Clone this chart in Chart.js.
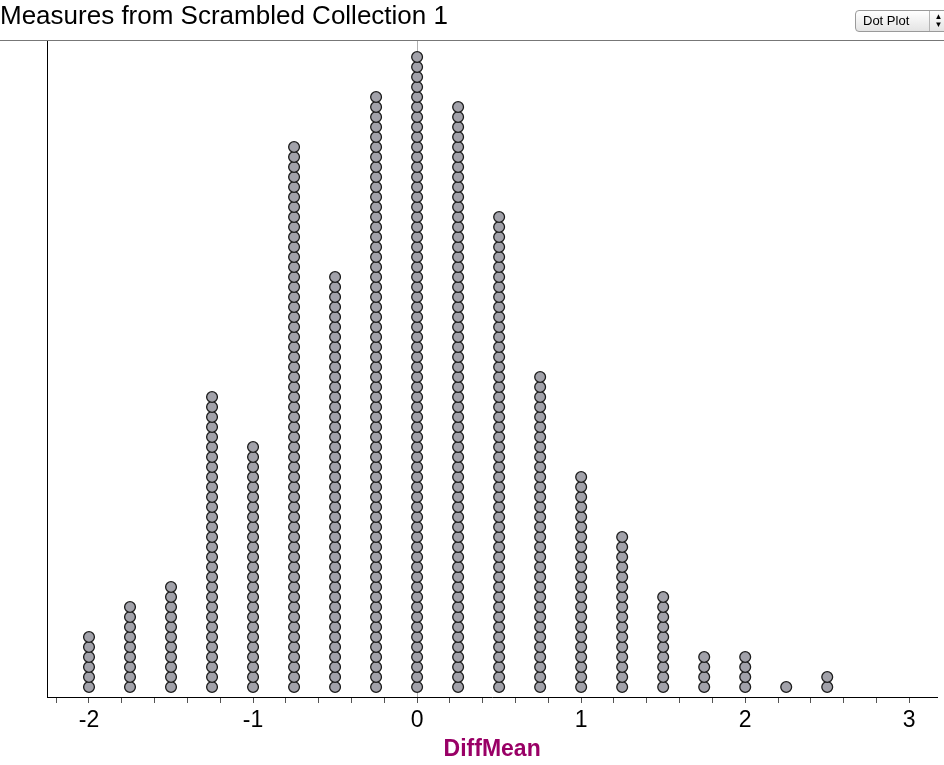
<!DOCTYPE html>
<html>
<head>
<meta charset="utf-8">
<script src="https://cdn.jsdelivr.net/npm/chart.js@4"></script>
<style>
  html, body { margin: 0; padding: 0; background: #fff; }
  #wrap { position: relative; width: 944px; height: 765px; overflow: hidden; }
  #plotMenu {
    position: absolute; top: 10px; left: 855px; width: 100px; height: 22px;
    box-sizing: border-box; border: 1px solid #9a9a9a; border-radius: 4px;
    background: linear-gradient(#ffffff, #e4e4e4);
    font: 13px "Liberation Sans", Arial, sans-serif; color: #000;
    line-height: 20px; padding-left: 7px;
  }
  #plotMenu .arrows {
    position: absolute; left: 73px; top: 0; height: 20px; width: 18px;
    border-left: 1px solid #b5b5b5; font-size: 8px; line-height: 8px;
    text-align: center; padding-top: 2px; box-sizing: border-box;
  }
</style>
</head>
<body>
<div id="wrap">
  <canvas id="dotPlot" width="944" height="765"></canvas>
  <div id="plotMenu">Dot Plot<div class="arrows">▲<br>▼</div></div>
</div>
<script>
// DiffMean values (stack positions) and the number of dots in each stack
const diffMeans = [-2, -1.75, -1.5, -1.25, -1, -0.75, -0.5, -0.25, 0, 0.25, 0.5, 0.75, 1, 1.25, 1.5, 1.75, 2, 2.25, 2.5];
const dotCounts = [6, 9, 11, 30, 25, 55, 42, 60, 64, 59, 48, 32, 22, 16, 10, 4, 4, 1, 2];
const tickLabels = [-2, -1, 0, 1, 2, 3];
const minorStep = 0.2;

const points = [];
diffMeans.forEach((x, i) => {
  for (let k = 0; k < dotCounts[i]; k++) {
    points.push({ x: x, y: k });
  }
});

const fontFamily = '"Liberation Sans", Arial, Helvetica, sans-serif';

// gray rule under the title, across the whole page
const headerRule = {
  id: 'headerRule',
  afterDraw(chart) {
    const { ctx, chartArea } = chart;
    ctx.save();
    ctx.strokeStyle = '#777';
    ctx.lineWidth = 1;
    ctx.beginPath();
    ctx.moveTo(0, chartArea.top + 0.5);
    ctx.lineTo(chart.width, chartArea.top + 0.5);
    ctx.stroke();
    ctx.restore();
  }
};

const ctx = document.getElementById('dotPlot').getContext('2d');
new Chart(ctx, {
  type: 'scatter',
  data: {
    datasets: [{
      data: points,
      backgroundColor: '#a2a2aa',
      borderColor: '#1c1c1c',
      borderWidth: 1.3,
      pointRadius: 5.4,
      pointHoverRadius: 5.4
    }]
  },
  options: {
    responsive: false,
    animation: false,
    layout: { padding: 0 },
    plugins: {
      legend: { display: false },
      tooltip: { enabled: false },
      title: {
        display: true,
        text: 'Measures from Scrambled Collection 1',
        align: 'start',
        color: '#000',
        font: { family: fontFamily, size: 26, weight: 'normal' },
        padding: { top: 1, bottom: 7.8 }
      }
    },
    scales: {
      x: {
        type: 'linear',
        min: -2.256,
        max: 3.171,
        afterBuildTicks(scale) {
          const ticks = [];
          const first = tickLabels[0] - minorStep;
          const last = tickLabels[tickLabels.length - 1] + minorStep;
          for (let v = first; v <= last + 1e-9; v += minorStep) {
            const r = Math.round(v * 10) / 10;
            if (r >= scale.min && r <= scale.max) ticks.push({ value: r });
          }
          scale.ticks = ticks;
        },
        afterFit(scale) { scale.height = 68; },
        ticks: {
          autoSkip: false,
          maxRotation: 0,
          padding: 4,
          color: '#000',
          font: { family: fontFamily, size: 23 },
          callback: (v) => tickLabels.includes(v) ? String(v) : ''
        },
        grid: {
          drawOnChartArea: true,
          color: (c) => c.tick && c.tick.value === 0 ? '#b0b0b0' : 'rgba(0,0,0,0)',
          tickColor: '#555',
          tickLength: 6
        },
        border: { display: true, color: '#000', width: 1 },
        title: {
          display: true,
          text: 'DiffMean',
          color: '#990066',
          font: { family: fontFamily, size: 23, weight: 'bold' },
          padding: { top: 0, bottom: 2 }
        }
      },
      y: {
        type: 'linear',
        min: -1,
        max: 64.7,
        afterFit(scale) { scale.width = 47; },
        ticks: { display: false },
        grid: { display: false, drawTicks: false },
        border: { display: true, color: '#000', width: 1 }
      }
    }
  },
  plugins: [headerRule]
});
</script>
</body>
</html>
